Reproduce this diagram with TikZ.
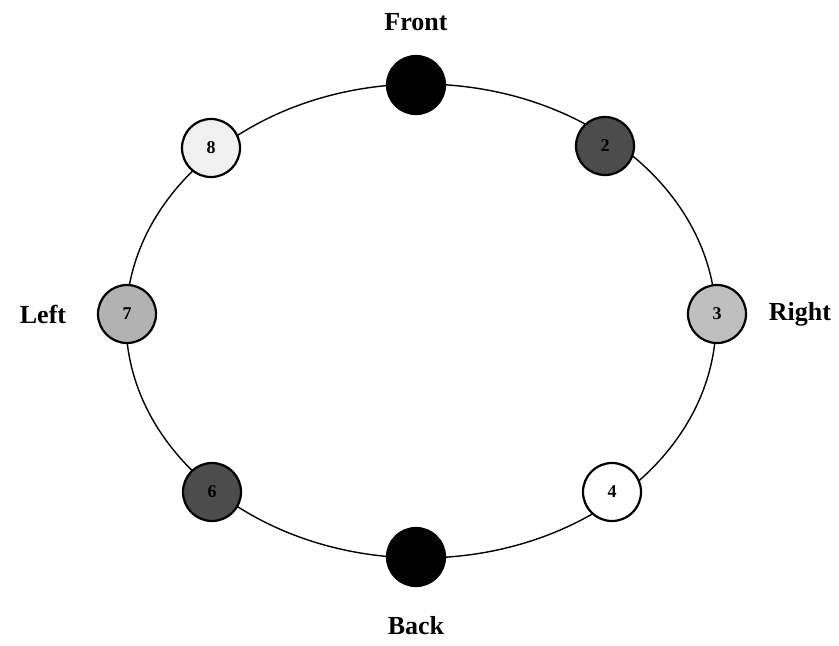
\documentclass[tikz,border=0pt]{standalone}
\usepackage{fontspec}
\setmainfont{Liberation Serif}
\begin{document}
\begin{tikzpicture}[x=1pt,y=-1pt,
  seat/.style={circle,draw=black,line width=2.2pt,minimum size=58pt,inner sep=0pt,font=\fontsize{18}{18}\selectfont\bfseries},
  side/.style={font=\fontsize{26}{26}\selectfont\bfseries}]
\useasboundingbox (0,0) rectangle (839,646);
\draw[line width=1.4pt] (421,321) ellipse [x radius=295, y radius=237];
\node[seat,fill=black] (front) at (416,85) {};
\node[seat,fill=black!70] (s2) at (605,146) {2};
\node[seat,fill=black!25] (s3) at (717,314) {3};
\node[seat,fill=white] (s4) at (612,492) {4};
\node[seat,fill=black] (back) at (416,557) {};
\node[seat,fill=black!70] (s6) at (212,492) {6};
\node[seat,fill=black!30] (s7) at (127,314) {7};
\node[seat,fill=black!6] (s8) at (211,148) {8};
\node[side] (lf) at (416,22) {Front};
\node[side] (lb) at (416,626) {Back};
\node[side] (ll) at (43,314) {Left};
\node[side] (lr) at (800,314) {Right};
\end{tikzpicture}
\end{document}
